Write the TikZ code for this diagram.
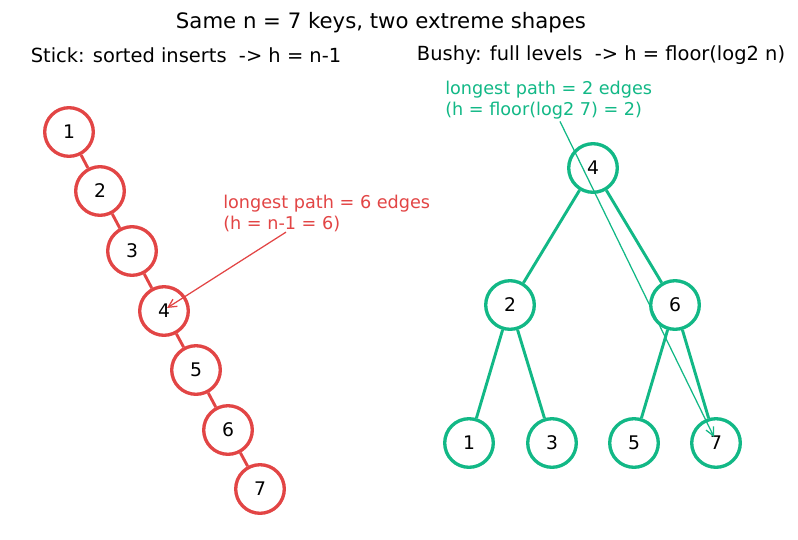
\documentclass[tikz,border=0pt]{standalone}
\usepackage{fontspec}
\setmainfont{DejaVu Sans}
\usepackage{xcolor}
\usepackage{tikz}
\usetikzlibrary{arrows.meta,positioning,calc}
\definecolor{stickred}{HTML}{E24545}
\definecolor{bushgreen}{HTML}{12B886}

\begin{document}
\begin{tikzpicture}[
    x=0.72pt, y=-0.72pt,
    sticknode/.style={circle, draw=stickred, line width=2.4pt, fill=white, minimum size=35pt, inner sep=0pt, font=\fontsize{13.5}{16}\selectfont},
    bushnode/.style={circle, draw=bushgreen, line width=2.4pt, fill=white, minimum size=35pt, inner sep=0pt, font=\fontsize{13.5}{16}\selectfont},
    stickedge/.style={draw=stickred, line width=2.1pt},
    bushedge/.style={draw=bushgreen, line width=2.1pt},
    heading/.style={font=\fontsize{15.3}{18}\selectfont},
    subhead/.style={font=\fontsize{14}{17}\selectfont},
    note/.style={font=\fontsize{12.7}{15}\selectfont, align=left, anchor=north west, inner sep=0pt}
]
\useasboundingbox (0,0) rectangle (798,539);
\node[heading] (title) at (381,23) {Same n = 7 keys, two extreme shapes};
\node[subhead] (stickhd) at (186,55) {Stick: sorted inserts \ -> h = n-1};
\node[subhead] (bushhd) at (601,55) {Bushy: full levels \ -> h = floor(log2 n)};
% stick: sorted inserts
\node[sticknode] (s1) at (69,132) {1};
\node[sticknode] (s2) at (100,191) {2};
\node[sticknode] (s3) at (132,251) {3};
\node[sticknode] (s4) at (164,311) {4};
\node[sticknode] (s5) at (196,370) {5};
\node[sticknode] (s6) at (228,430) {6};
\node[sticknode] (s7) at (260,489) {7};
\draw[stickedge] (s1) -- (s2);
\draw[stickedge] (s2) -- (s3);
\draw[stickedge] (s3) -- (s4);
\draw[stickedge] (s4) -- (s5);
\draw[stickedge] (s5) -- (s6);
\draw[stickedge] (s6) -- (s7);
% bushy: full levels
\node[bushnode] (b4) at (593,168) {4};
\node[bushnode] (b2) at (510,305) {2};
\node[bushnode] (b6) at (675,305) {6};
\node[bushnode] (b1) at (469,443) {1};
\node[bushnode] (b3) at (552,443) {3};
\node[bushnode] (b5) at (634,443) {5};
\node[bushnode] (b7) at (716,443) {7};
\draw[bushedge] (b4) -- (b2);
\draw[bushedge] (b4) -- (b6);
\draw[bushedge] (b2) -- (b1);
\draw[bushedge] (b2) -- (b3);
\draw[bushedge] (b6) -- (b5);
\draw[bushedge] (b6) -- (b7);
% annotations
\node[note, text=stickred] (stickpath) at (223,195) {longest path = 6 edges\\(h = n-1 = 6)};
\node[note, text=bushgreen] (bushpath) at (445,81) {longest path = 2 edges\\(h = floor(log2 7) = 2)};
\coordinate (stickfrom) at ($(stickpath.south west)+(63,0)$);
\coordinate (bushfrom) at ($(bushpath.south west)+(115,2)$);
\draw[-{Straight Barb[length=6pt,width=6pt]}, stickred, line width=0.9pt] (stickfrom) -- ($(s4.center)+(3,-3)$);
\draw[-{Straight Barb[length=6pt,width=6pt]}, bushgreen, line width=0.9pt] (bushfrom) -- ($(b7.center)+(-2,-6)$);
\end{tikzpicture}
\end{document}
